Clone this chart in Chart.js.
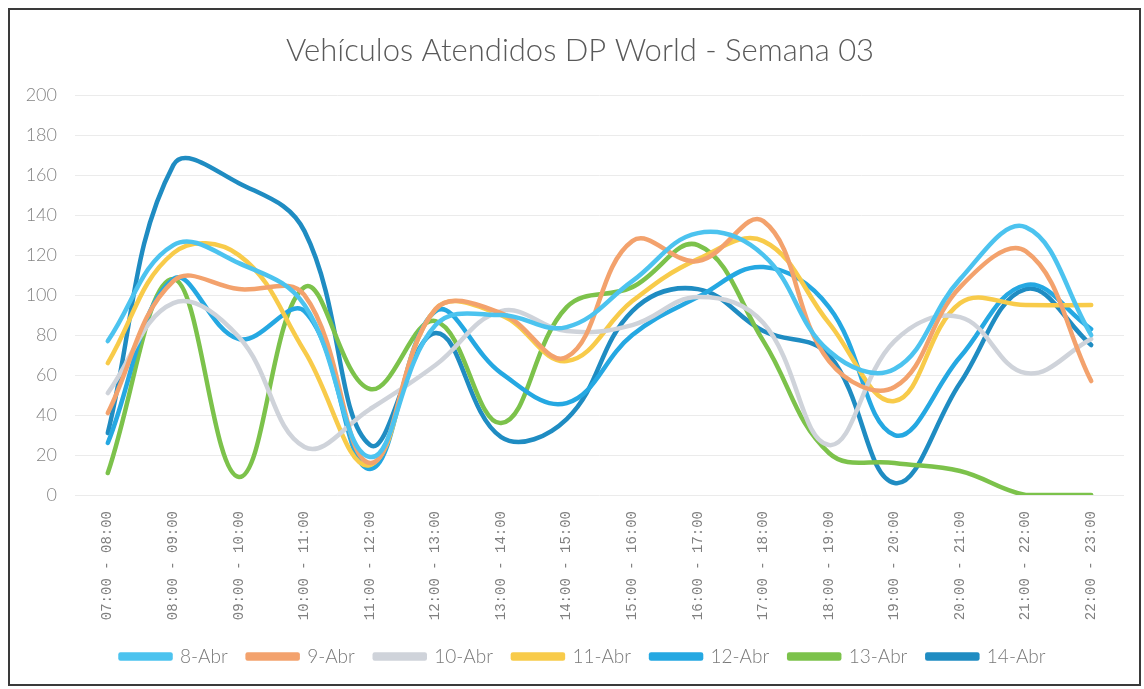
<!DOCTYPE html>
<html>
<head>
<meta charset="utf-8">
<script src="https://cdn.jsdelivr.net/npm/chart.js@4"></script>
<style>
  html, body { margin: 0; padding: 0; background: #fff; }
  #frame { position: absolute; left: 8px; top: 8px; width: 1133px; height: 678px; border: 2px solid #3a3a3a; box-sizing: border-box; background: #fff; }
  #wrap { position: absolute; left: 0; top: 0; right: 0; bottom: 0; }
</style>
</head>
<body>
<div id="frame"><div id="wrap"><canvas id="c"></canvas></div></div>
<script>
const categories = ["07:00 - 08:00","08:00 - 09:00","09:00 - 10:00","10:00 - 11:00","11:00 - 12:00","12:00 - 13:00","13:00 - 14:00","14:00 - 15:00","15:00 - 16:00","16:00 - 17:00","17:00 - 18:00","18:00 - 19:00","19:00 - 20:00","20:00 - 21:00","21:00 - 22:00","22:00 - 23:00"];
const abr8  = [77, 125, 116, 95, 19, 85, 90, 84, 107, 131, 120, 72, 63, 108, 134, 80];
const abr9  = [41, 107, 103, 100, 16, 93, 91, 69, 127, 117, 137, 67, 54, 104, 122, 57];
const abr10 = [51, 96, 79, 24, 43, 65, 92, 82, 85, 99, 86, 25, 77, 89, 61, 78];
const abr11 = [66, 121, 120, 72, 15, 93, 90, 67, 97, 118, 127, 86, 47, 96, 95, 95];
const abr12 = [26, 108, 78, 92, 13, 92, 61, 46, 80, 99, 114, 94, 30, 69, 105, 83];
const abr13 = [11, 108, 9, 104, 53, 87, 36, 94, 104, 125, 77, 21, 16, 12, 0, 0];
const abr14 = [31, 165, 156, 132, 25, 81, 29, 38, 92, 103, 82, 70, 6, 56, 103, 75];
const seriesNames = ["8-Abr","9-Abr","10-Abr","11-Abr","12-Abr","13-Abr","14-Abr"];
const yTicks = [0, 20, 40, 60, 80, 100, 120, 140, 160, 180, 200];

const colors = ["#4cc3ef", "#f3a26d", "#cfd3da", "#f8cb4a", "#25a8e2", "#7cc24b", "#1f8cc2"];
const seriesData = [abr8, abr9, abr10, abr11, abr12, abr13, abr14];

const datasets = seriesNames.map((n, i) => ({
  label: n,
  data: seriesData[i],
  borderColor: colors[i],
  backgroundColor: colors[i],
  borderWidth: 4.5,
  borderCapStyle: 'round',
  borderJoinStyle: 'round',
  pointRadius: 0,
  tension: 0.4,
  fill: false
}));

const boxShift = {
  id: 'boxShift',
  afterLayout(chart) {
    const lg = chart.legend;
    if (lg) { lg.left += 16; lg.right += 16; }
    const tt = chart.titleBlock;
    if (tt) { tt.left += 13; tt.right += 13; }
  }
};

new Chart(document.getElementById('c'), {
  type: 'line',
  data: { labels: categories, datasets: datasets },
  plugins: [boxShift],
  options: {
    responsive: true,
    maintainAspectRatio: false,
    animation: false,
    layout: { padding: { left: 0, right: 15, top: 14, bottom: 8 } },
    plugins: {
      title: {
        display: true,
        text: 'Vehículos Atendidos DP World - Semana 03',
        color: '#595959',
        font: { family: 'Lato', size: 31, weight: '300' },
        padding: { top: 8, bottom: 26 }
      },
      legend: {
        position: 'bottom',
        labels: {
          color: '#7a7a7a',
          font: { family: 'Lato', size: 19, weight: '300' },
          boxWidth: 50,
          boxHeight: 4,
          padding: 20
        }
      },
      tooltip: { enabled: false }
    },
    scales: {
      x: {
        offset: true,
        grid: { display: false, drawTicks: false },
        border: { display: false },
        afterFit: (s) => { s.height = 132; },
        ticks: {
          color: '#7f7f7f',
          font: { family: 'Liberation Mono', size: 14 },
          minRotation: 90, maxRotation: 90,
          autoSkip: false,
          padding: 16
        }
      },
      y: {
        min: 0, max: 200,
        afterBuildTicks: (s) => { s.ticks = yTicks.map(v => ({ value: v })); },
        afterFit: (s) => { s.width = 65; },
        grid: { color: '#ebebeb', lineWidth: 1, drawTicks: false },
        border: { display: false },
        ticks: {
          color: '#858585',
          font: { family: 'Lato', size: 18, weight: '300' },
          padding: 18
        }
      }
    }
  }
});
</script>
</body>
</html>
